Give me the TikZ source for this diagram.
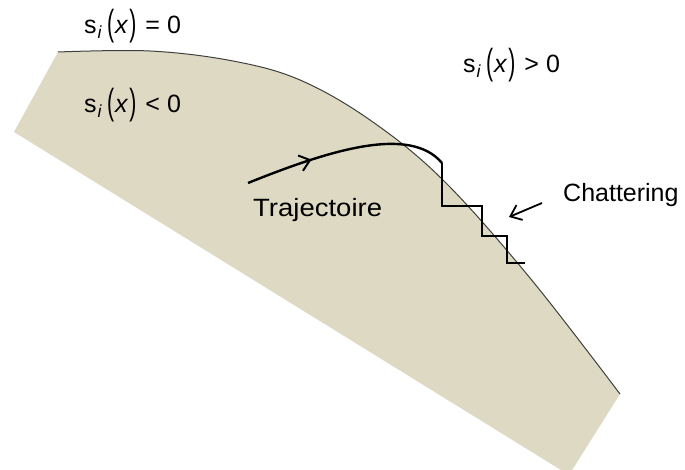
\documentclass[tikz,border=0pt]{standalone}
\usepackage{fontspec}
\setmainfont{Liberation Sans}
\usepackage{graphicx}
\usetikzlibrary{arrows.meta,decorations.markings}

\definecolor{sandfill}{RGB}{221,217,195}
\newcommand{\tallparen}[1]{\raisebox{-2pt}{\scalebox{0.85}[1.45]{#1}}}
\newcommand{\surfrel}[1]{s\kern1pt\textsubscript{\itshape i}\kern5pt\tallparen{(}\kern1pt\textit{x}\kern1pt\tallparen{)}\kern9pt#1\kern7pt 0}

\begin{document}
\begin{tikzpicture}[x=1pt, y=-1pt, >={Straight Barb[length=10pt,width=16pt]},
    eqlabel/.style={anchor=base west, inner sep=0pt, font=\fontsize{25}{30}\selectfont},
    txtlabel/.style={anchor=base west, inner sep=0pt, font=\fontsize{25}{30}\selectfont}]
    \useasboundingbox (0,0) rectangle (685,470);

    % shaded region s_i(x) < 0
    \fill[sandfill] plot[smooth, tension=0.6] coordinates
        {(58,52) (150,51) (233,61) (300,80) (370,120) (443,180) (530,278) (620,394)}
        -- (569,475) -- (14,132) -- cycle;
    \draw[black!75, line width=1pt] plot[smooth, tension=0.6] coordinates
        {(58,52) (150,51) (233,61) (300,80) (370,120) (443,180) (530,278) (620,394)};

    \node[eqlabel] (szero) at (84,34) {\surfrel{=}};
    \node[eqlabel] (sneg) at (84,113) {\surfrel{<}};
    \node[eqlabel] (spos) at (463,73) {\surfrel{>}};

    \node[txtlabel] (traj) at (253,217) {\scalebox{1.1}[1]{Trajectoire}};
    \node[txtlabel] (chat) at (563,202) {Chattering};

    % trajectory and chattering steps
    \coordinate (t0) at (248,183);
    \coordinate (t1) at (442,163);
    \draw[line width=2.4pt, line join=miter,
        postaction={decorate, decoration={markings,
            mark=at position 0.33 with {\arrow[line width=2pt]{>}}}}]
        (t0) .. controls (330,150) and (410,125) .. (t1);
    \draw[line width=2.2pt, line join=miter]
        (t1) -- (442,206) -- (482,206) -- (482,236) -- (507,236) -- (507,263) -- (525,263);

    % pointer to the steps
    \coordinate (c0) at (542,203);
    \coordinate (c1) at (509,217);
    \draw[->, line width=1.8pt] (c0) -- (c1);
\end{tikzpicture}
\end{document}
